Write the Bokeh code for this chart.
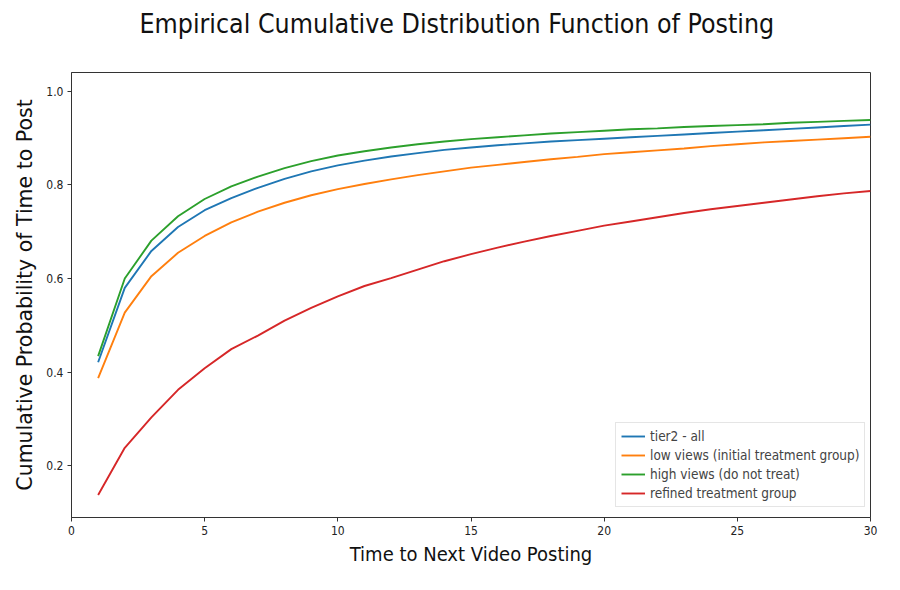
from bokeh.plotting import figure
from bokeh.models import Range1d, Legend, LegendItem, FixedTicker, NumeralTickFormatter, Title
from bokeh.embed import file_html
from bokeh.resources import INLINE

days = list(range(1, 31))
tier2_all = [0.421, 0.580, 0.659, 0.710, 0.746, 0.772, 0.794, 0.813, 0.829, 0.842,
             0.852, 0.861, 0.868, 0.875, 0.880, 0.885, 0.889, 0.893, 0.896, 0.899,
             0.902, 0.905, 0.908, 0.911, 0.914, 0.917, 0.920, 0.923, 0.926, 0.929]
low_views = [0.387, 0.527, 0.605, 0.655, 0.691, 0.720, 0.743, 0.762, 0.778, 0.791,
             0.802, 0.812, 0.821, 0.829, 0.837, 0.843, 0.849, 0.855, 0.860, 0.866,
             0.870, 0.874, 0.878, 0.883, 0.887, 0.891, 0.894, 0.897, 0.900, 0.903]
high_views = [0.434, 0.600, 0.681, 0.733, 0.770, 0.797, 0.818, 0.836, 0.851, 0.863,
              0.872, 0.880, 0.887, 0.893, 0.898, 0.902, 0.906, 0.910, 0.913, 0.916,
              0.919, 0.921, 0.924, 0.926, 0.928, 0.930, 0.933, 0.935, 0.937, 0.939]
refined = [0.137, 0.238, 0.303, 0.362, 0.408, 0.449, 0.478, 0.510, 0.537, 0.562,
           0.584, 0.601, 0.619, 0.637, 0.652, 0.666, 0.679, 0.691, 0.702, 0.713,
           0.722, 0.731, 0.740, 0.748, 0.755, 0.762, 0.769, 0.776, 0.782, 0.787]

series_names = ["tier2 - all", "low views (initial treatment group)",
                "high views (do not treat)", "refined treatment group"]
series_values = [tier2_all, low_views, high_views, refined]
colors = ["#1f77b4", "#ff7f0e", "#2ca02c", "#d62728"]
x_ticks = [0, 5, 10, 15, 20, 25, 30]
y_ticks = [0.2, 0.4, 0.6, 0.8, 1.0]
title_text = "Empirical Cumulative Distribution Function of Posting"

FONT = "DejaVu Sans Condensed"

p = figure(width=888, height=578, output_backend="svg", toolbar_location=None,
           x_range=Range1d(0, 30), y_range=Range1d(0.089, 1.0405),
           min_border_left=71, min_border_right=18, min_border_top=71, min_border_bottom=61,
           title=None)

# spacer between title and frame
spacer = Title(text=" ", text_font_size="24px", standoff=0)
p.add_layout(spacer, "above")
main_title = Title(text=title_text, text_font=FONT, text_font_size="26.5px",
                   text_font_style="normal", align="left", offset=68,
                   text_color="#111111")
p.add_layout(main_title, "above")

items = []
for name, vals, c in zip(series_names, series_values, colors):
    r = p.line(days, vals, line_color=c, line_width=1.9)
    items.append(LegendItem(label=name, renderers=[r]))

p.xgrid.visible = False
p.ygrid.visible = False
p.outline_line_color = "#333333"
p.outline_line_width = 1

for ax in (p.xaxis[0], p.yaxis[0]):
    ax.major_label_text_font = FONT
    ax.major_label_text_font_size = "12px"
    ax.major_label_text_color = "#222222"
    ax.axis_label_text_font = FONT
    ax.axis_label_text_font_style = "normal"
    ax.axis_label_text_font_size = "20px"
    ax.axis_label_text_color = "#111111"
    ax.minor_tick_line_color = None
    ax.major_tick_out = 4
    ax.major_tick_in = 0
    ax.axis_line_color = "#333333"
    ax.major_tick_line_color = "#333333"
    ax.major_label_standoff = 4

p.xaxis[0].ticker = FixedTicker(ticks=x_ticks)
p.yaxis[0].ticker = FixedTicker(ticks=y_ticks)
p.yaxis[0].formatter = NumeralTickFormatter(format="0.0")
p.xaxis[0].axis_label = "Time to Next Video Posting"
p.yaxis[0].axis_label = "Cumulative Probability of Time to Post"
p.yaxis[0].axis_label_text_font = "DejaVu Sans"
p.yaxis[0].axis_label_text_font_size = "20.5px"
p.xaxis[0].axis_label_standoff = 4
p.yaxis[0].axis_label_standoff = 6

legend = Legend(items=items, location=(544, 10))
legend.label_text_font = FONT
legend.label_text_font_size = "13.5px"
legend.label_height = 16
legend.glyph_height = 16
legend.glyph_width = 24
legend.spacing = 3
legend.padding = 5
legend.margin = 0
legend.border_line_color = "#cccccc"
legend.border_line_width = 1
legend.background_fill_alpha = 0.8
p.add_layout(legend, "center")

open("out.html", "w").write(file_html(p, INLINE))
